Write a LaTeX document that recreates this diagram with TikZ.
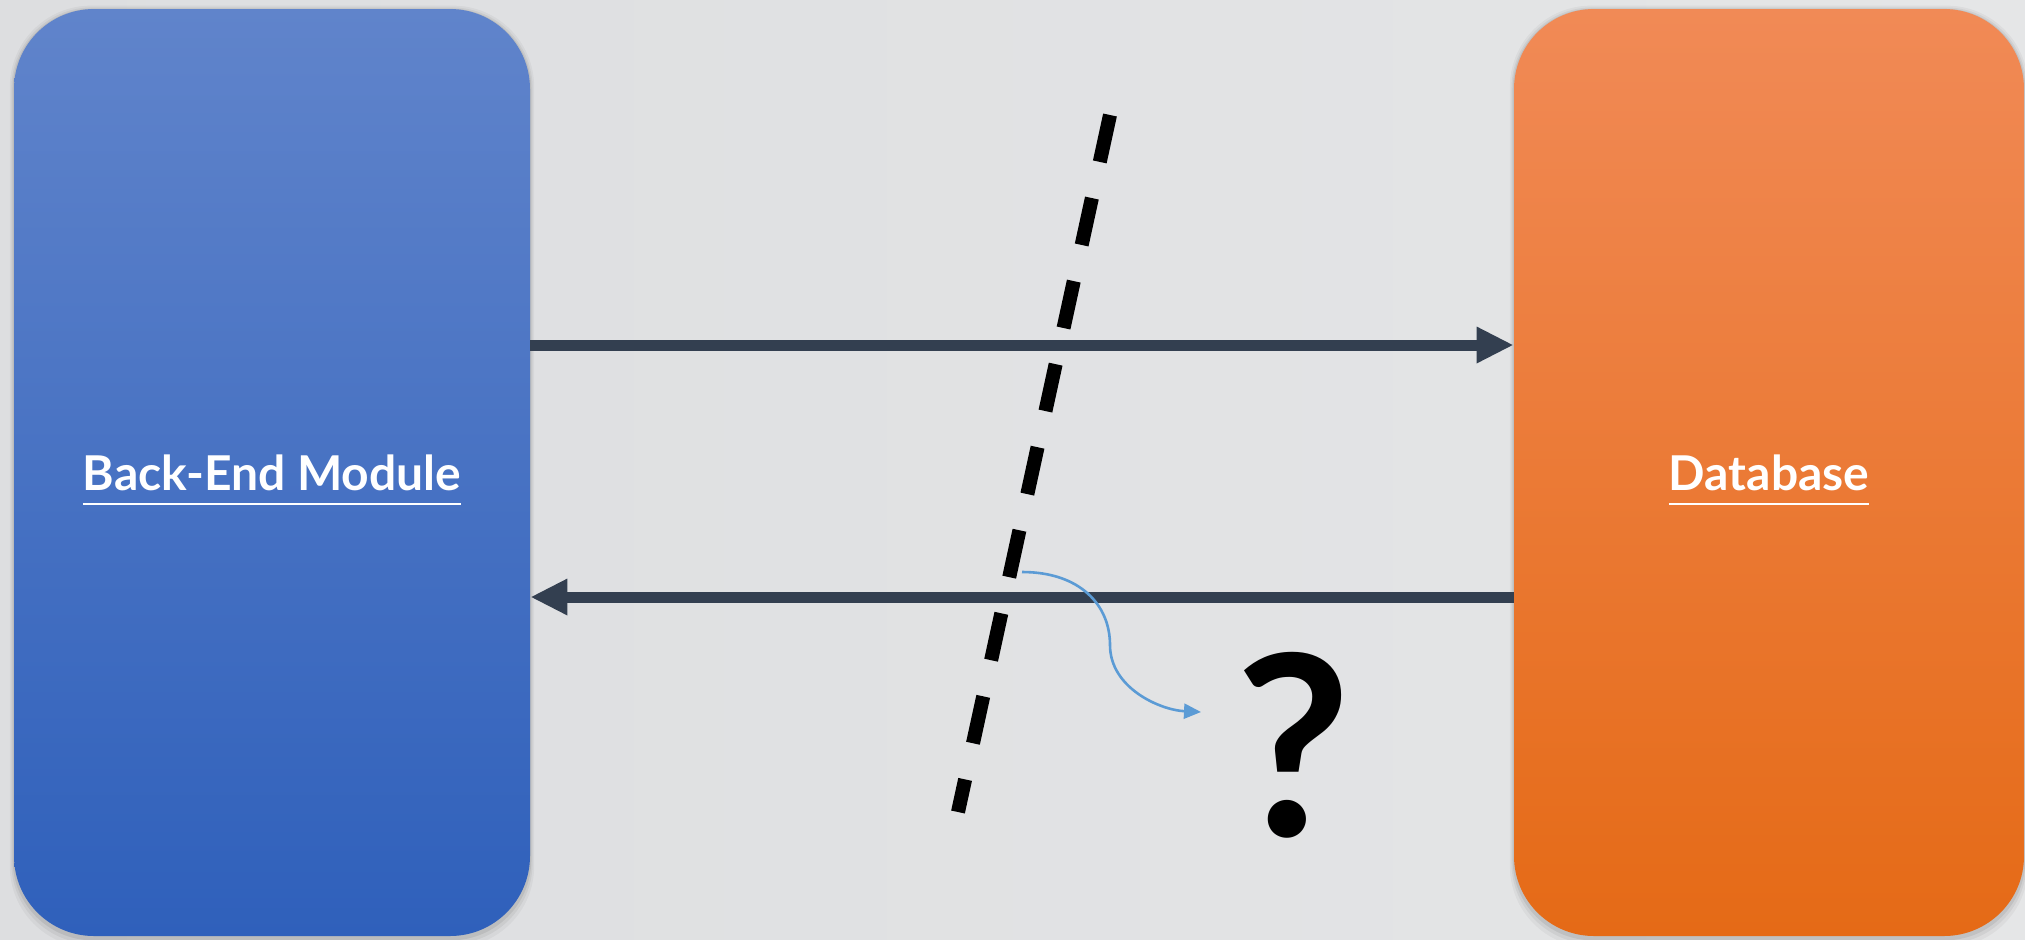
\documentclass[tikz,border=0pt]{standalone}
\usepackage{fontspec}
\setmainfont{Lato}
\usetikzlibrary{arrows.meta,shadows}
\definecolor{bgL}{RGB}{221,222,224}
\definecolor{bgM}{RGB}{234,235,236}
\definecolor{bgR}{RGB}{229,230,231}
\definecolor{blueT}{RGB}{96,132,203}
\definecolor{blueB}{RGB}{47,96,187}
\definecolor{orT}{RGB}{241,138,86}
\definecolor{orM}{RGB}{245,124,38}
\definecolor{orB}{RGB}{229,106,22}
\definecolor{arrowc}{RGB}{51,63,80}
\definecolor{curvec}{RGB}{91,155,213}
\newcommand\myul[1]{\setbox0=\hbox{#1}\rlap{\smash{\raisebox{-7.6pt}{\rule{\wd0}{1.3pt}}}}\box0}
\tikzset{
  module/.style={rectangle, rounded corners=40pt, minimum width=258pt, minimum height=463.5pt,
    inner sep=0pt, text=white, font=\fontsize{24pt}{28pt}\selectfont\bfseries,
    general shadow={fill=black, opacity=.04, shadow scale=1.016, shadow yshift=-2pt},
    general shadow={fill=black, opacity=.05, shadow scale=1.010, shadow yshift=-1.5pt},
    general shadow={fill=black, opacity=.07, shadow scale=1.005, shadow yshift=-1pt}},
  flow/.style={draw=arrowc, line width=5.5pt, -{Triangle[length=18.5pt,width=17pt]}},
  splitline/.style={draw=black, line width=7pt, dash pattern=on 24pt off 18.5pt},
  hint/.style={draw=curvec, line width=1.3pt, -{Triangle[length=8.5pt,width=7.5pt]}},
}
\begin{document}
\begin{tikzpicture}[x=0.5pt,y=-0.5pt]
\shade[left color=bgL, middle color=bgM, right color=bgR] (0,0) rectangle (2025,939);
\useasboundingbox (0,0) rectangle (2025,939);
\node[module, top color=blueT, bottom color=blueB] (be) at (272,472.5) {\myul{Back-End Module}};
\node[module, top color=orT, middle color=orM, bottom color=orB, minimum width=255pt] (db) at (1769,472.5) {\myul{Database}};
\coordinate (ya) at (0,345);
\coordinate (yb) at (0,597);
\draw[flow] (be.east |- ya) -- (db.west |- ya);
\draw[flow] (db.west |- yb) -- (be.east |- yb);
\coordinate (c1) at (1110,115);
\coordinate (c2) at (958,812);
\draw[splitline] (c1) -- (c2);
\coordinate (h1) at (1022,572);
\coordinate (h2) at (1110,645);
\coordinate (h3) at (1201,712);
\node[font=\fontsize{126pt}{126pt}\selectfont\bfseries, inner sep=0pt] (q) at (1293,745) {?};
\draw[hint] (h1) .. controls (1080,572) and (1110,605) .. (h2) .. controls (1110,688) and (1160,710) .. (h3);
\end{tikzpicture}
\end{document}
